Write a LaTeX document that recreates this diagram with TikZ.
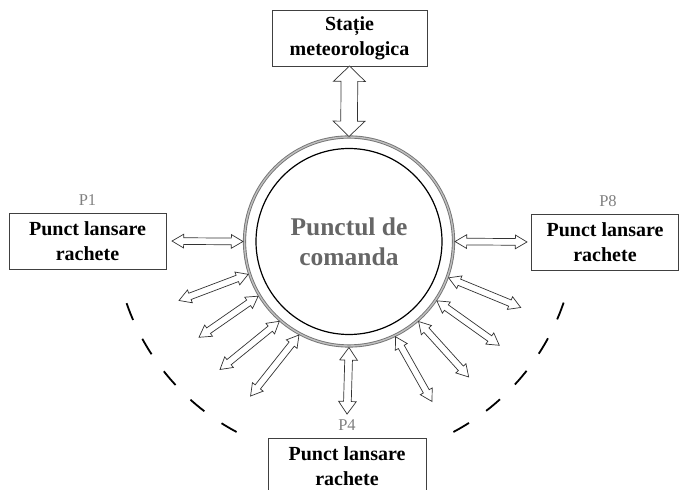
\documentclass[tikz,border=0pt]{standalone}
\usepackage{fontspec}
\setmainfont{Liberation Serif}
\usepackage{tikz}
\usetikzlibrary{calc}
\usetikzlibrary{positioning}
\usetikzlibrary{shapes.arrows}
\tikzset{
  startgap/.store in=\startgap, startgap=1.5bp,
  endgap/.store in=\endgap, endgap=0bp,
  box/.style={draw=black!75, line width=0.8bp, fill=white, outer sep=0pt, inner sep=2bp,
    minimum width=157bp, minimum height=56bp, align=center,
    font=\fontsize{20bp}{25bp}\selectfont\bfseries},
  tag/.style={text=black!50, font=\fontsize{16.5bp}{19bp}\selectfont},
  hubring/.style={circle, draw=black!55, double=black!25, double distance=1.4bp, line width=0.9bp,
    minimum size=209bp, inner sep=0pt, outer sep=0pt, align=center, text=black!60,
    font=\fontsize{25.5bp}{30bp}\selectfont\bfseries},
  rim/.style={dash pattern=on 18bp off 21bp, line width=1.8bp},
  dblarr/.style={double arrow, draw=black!80, fill=white, line width=0.7bp, inner xsep=0pt,
    outer sep=0pt, double arrow head indent=0pt},
  dblsmall/.style={inner ysep=3bp, minimum width=13bp, double arrow head extend=3.5bp, double arrow tip angle=61},
  dbltop/.style={inner ysep=8bp, minimum width=31bp, double arrow head extend=7.5bp, double arrow tip angle=92},
  dblbottom/.style={inner ysep=3.5bp, minimum width=17bp, double arrow head extend=5bp, double arrow tip angle=70},
  conn/.style={to path={let \p1=($(\tikztostart)!\startgap!(\tikztotarget)$),
    \p2=($(\tikztotarget)!\endgap!(\tikztostart)$), \p3=($(\p2)-(\p1)$),
    \n1={atan2(\y3,\x3)}, \n2={veclen(\x3,\y3)} in
    node[dblarr,#1,rotate=\n1,minimum height=\n2] at ($(\p1)!0.5!(\p2)$) {}}}
}

\begin{document}
\begin{tikzpicture}
\useasboundingbox (0bp,0bp) rectangle (679bp,490bp);
%% launch points rim
  \coordinate (rimc) at (345bp,262bp);
  \draw[rim] ($(rimc)+(199:231bp)$) arc[start angle=199, end angle=242, radius=231bp];
  \draw[rim] ($(rimc)+(298:231bp)$) arc[start angle=298, end angle=342, radius=231bp];
%% command point
  \node (hub) at (349bp,248.5bp) [hubring] {Punctul de\\comanda};
  \draw[line width=1.2bp] (hub.center) circle[radius=93bp];
%% boxes
  \node (met) at (349.5bp,452bp) [box, minimum width=155bp] {Stație\\meteorologica};
  \node (p1) at (87.5bp,249bp) [box] {Punct lansare\\rachete};
  \node (p8) at (605bp,248bp) [box, minimum width=147bp] {Punct lansare\\rachete};
  \node (p4) at (347bp,24bp) [box, minimum width=158bp] {Punct lansare\\rachete};
  \node (p1lab) [tag, above=4bp of p1] {P1};
  \node (p8lab) [tag, above=4bp of p8, xshift=3bp] {P8};
  \node (p4lab) [tag, above=4bp of p4] {P4};
%% free ends of the links
  \coordinate (l1) at (179bp,189.5bp);
  \coordinate (l2) at (199bp,152.7bp);
  \coordinate (l3) at (220bp,120.5bp);
  \coordinate (l4) at (250.5bp,93.9bp);
  \coordinate (r1) at (520.7bp,182.5bp);
  \coordinate (r2) at (499.3bp,144.7bp);
  \coordinate (r3) at (468.7bp,113bp);
  \coordinate (r4) at (432bp,88.5bp);
%% links
  \path[conn=dbltop, startgap=0.5bp] (hub.north) to (met.south);
  \path[conn=dblsmall, endgap=6bp] (hub.west) to (p1.east);
  \path[conn=dblsmall, endgap=4.5bp] (hub.east) to (p8.west);
  \path[conn=dblbottom, endgap=2bp] (hub.south) to (p4lab.north);
  \path[conn=dblsmall] (hub.198) to (l1);
  \path[conn=dblsmall] (hub.211) to (l2);
  \path[conn=dblsmall] (hub.229) to (l3);
  \path[conn=dblsmall] (hub.242) to (l4);
  \path[conn=dblsmall] (hub.340) to (r1);
  \path[conn=dblsmall] (hub.326) to (r2);
  \path[conn=dblsmall] (hub.311) to (r3);
  \path[conn=dblsmall] (hub.296) to (r4);
%
\end{tikzpicture}
\end{document}
